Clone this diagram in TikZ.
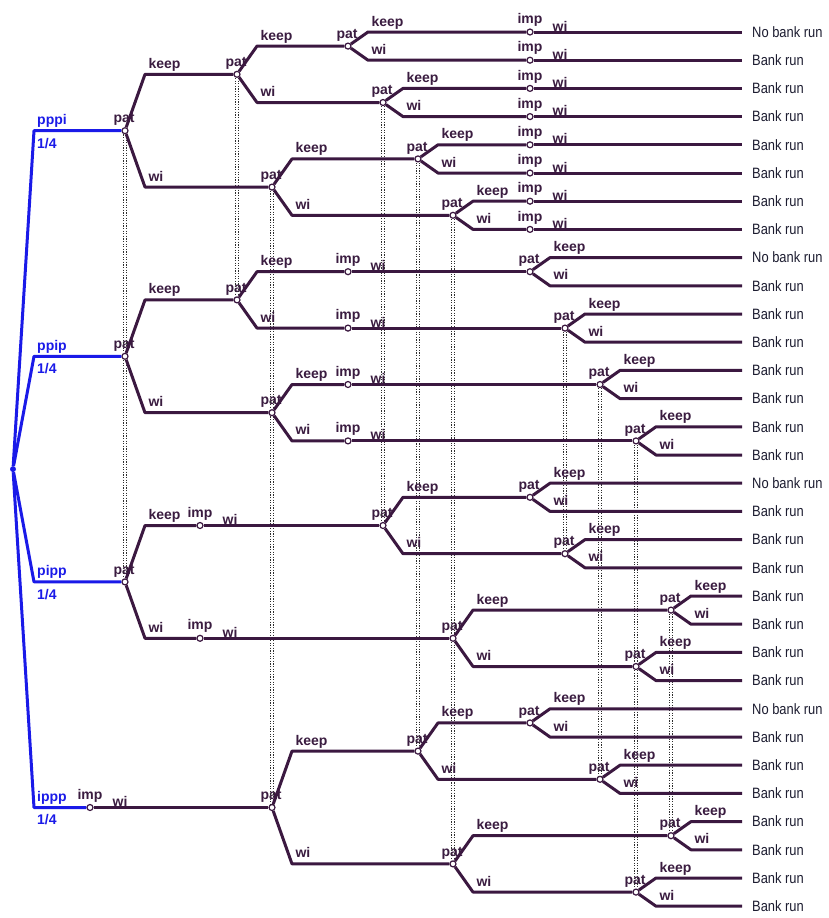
\documentclass[tikz,border=0pt]{standalone}
\usepackage{fontspec}
\setmainfont{Liberation Sans}
\newfontfamily\leaffam[FakeStretch=0.86]{Liberation Sans}
\usepackage{tikz}
\usetikzlibrary{calc}
\usepackage{xcolor}
\definecolor{branch}{HTML}{3B1840}
\definecolor{movetxt}{HTML}{3A1C40}
\definecolor{nature}{HTML}{1A1AE8}
\definecolor{leaftxt}{HTML}{1C1C30}
\definecolor{infoset}{HTML}{2E2E2E}
\newcommand{\movefont}{\fontsize{14}{16}\selectfont\bfseries}
\newcommand{\leaffont}{\leaffam\fontsize{15}{17}\selectfont}

\begin{document}
\begin{tikzpicture}[x=1pt,y=-1pt,
    tree/.style={draw=branch,line width=3pt,line join=round},
    nat/.style={draw=nature,line width=3pt,line join=round},
    lbl/.style={text=movetxt,font=\movefont,inner sep=0pt},
    nlbl/.style={text=nature,font=\movefont,inner sep=0pt},
    dec/.style={circle,draw=branch,fill=white,line width=1.2pt,minimum size=6pt,inner sep=0pt},
    patnode/.style={dec,label={[lbl,anchor=base,xshift=-1pt,yshift=11pt]center:pat}},
    impnode/.style={dec,label={[lbl,anchor=base,yshift=12pt]center:imp},
                    label={[lbl,anchor=base west,xshift=30pt,yshift=6pt]center:wi}},
    leaf/.style={anchor=west,text=leaftxt,font=\leaffont,inner xsep=10pt,inner ysep=0pt},
    br/.style={to path={-- ($(\tikztostart|-\tikztotarget)+(20,0)$)
               node[lbl,anchor=base west,xshift=2pt,yshift=6pt]{#1} -- (\tikztotarget)}},
    info/.style={preaction={draw=infoset,line width=1pt,dash pattern=on 1.2pt off 1.4pt,
                   transform canvas={xshift=-1.6pt}},
                 postaction={draw=infoset,line width=1pt,dash pattern=on 1.2pt off 1.4pt,
                   transform canvas={xshift=1.6pt}}}]
  \useasboundingbox (0,0) rectangle (828,918);

  % nature
  \node[circle,fill=nature,inner sep=0pt,minimum size=6pt] (r) at (13,469.1) {};
  \coordinate (ca) at (34,130.7);
  \coordinate (cb) at (34,356.3);
  \coordinate (cc) at (34,581.9);
  \coordinate (cd) at (34,807.5);
  \node[nlbl,anchor=base west] (ta) at ($(ca)+(3,-6)$) {pppi};
  \node[nlbl,anchor=north west] (pa) at ($(ca)+(3,7)$) {1/4};
  \node[nlbl,anchor=base west] (tb) at ($(cb)+(3,-6)$) {ppip};
  \node[nlbl,anchor=north west] (pb) at ($(cb)+(3,7)$) {1/4};
  \node[nlbl,anchor=base west] (tc) at ($(cc)+(3,-6)$) {pipp};
  \node[nlbl,anchor=north west] (pc) at ($(cc)+(3,7)$) {1/4};
  \node[nlbl,anchor=base west] (td) at ($(cd)+(3,-6)$) {ippp};
  \node[nlbl,anchor=north west] (pd) at ($(cd)+(3,7)$) {1/4};

  % first mover
  \node[patnode] (A) at (125,130.7) {};
  \node[patnode] (B) at (125,356.3) {};
  \node[patnode] (C) at (125,581.9) {};
  \node[impnode] (D0) at (90,807.5) {};
  \node[patnode] (D) at (272,807.5) {};

  % second mover
  \node[patnode] (A1) at (237,74.3) {};
  \node[patnode] (A2) at (272,187.1) {};
  \node[patnode] (B1) at (237,299.9) {};
  \node[patnode] (B2) at (272,412.7) {};
  \node[impnode] (Ci1) at (200,525.5) {};
  \node[impnode] (Ci2) at (200,638.3) {};
  \node[patnode] (C1) at (383,525.5) {};
  \node[patnode] (C2) at (453,638.3) {};
  \node[patnode] (D1) at (418,751.1) {};
  \node[patnode] (D2) at (453,863.9) {};

  % third mover
  \node[patnode] (A11) at (348,46.1) {};
  \node[patnode] (A12) at (383,102.5) {};
  \node[patnode] (A21) at (418,158.9) {};
  \node[patnode] (A22) at (453,215.3) {};
  \node[impnode] (Bi1) at (348,271.7) {};
  \node[impnode] (Bi2) at (348,328.1) {};
  \node[impnode] (Bi3) at (348,384.5) {};
  \node[impnode] (Bi4) at (348,440.9) {};
  \node[patnode] (B11) at (530,271.7) {};
  \node[patnode] (B12) at (565,328.1) {};
  \node[patnode] (B21) at (600,384.5) {};
  \node[patnode] (B22) at (636,440.9) {};
  \node[patnode] (C11) at (530,497.3) {};
  \node[patnode] (C12) at (565,553.7) {};
  \node[patnode] (C21) at (671,610.1) {};
  \node[patnode] (C22) at (636,666.5) {};
  \node[patnode] (D11) at (530,722.9) {};
  \node[patnode] (D12) at (600,779.3) {};
  \node[patnode] (D21) at (671,835.7) {};
  \node[patnode] (D22) at (636,892.1) {};

  % last mover (impatient)
  \node[impnode] (i1) at (530,32) {};
  \node[impnode] (i2) at (530,60.2) {};
  \node[impnode] (i3) at (530,88.4) {};
  \node[impnode] (i4) at (530,116.6) {};
  \node[impnode] (i5) at (530,144.8) {};
  \node[impnode] (i6) at (530,173) {};
  \node[impnode] (i7) at (530,201.2) {};
  \node[impnode] (i8) at (530,229.4) {};

  % outcomes
  \node[leaf] (L1) at (742,32) {No bank run};
  \node[leaf] (L2) at (742,60.2) {Bank run};
  \node[leaf] (L3) at (742,88.4) {Bank run};
  \node[leaf] (L4) at (742,116.6) {Bank run};
  \node[leaf] (L5) at (742,144.8) {Bank run};
  \node[leaf] (L6) at (742,173) {Bank run};
  \node[leaf] (L7) at (742,201.2) {Bank run};
  \node[leaf] (L8) at (742,229.4) {Bank run};
  \node[leaf] (L9) at (742,257.6) {No bank run};
  \node[leaf] (L10) at (742,285.8) {Bank run};
  \node[leaf] (L11) at (742,314) {Bank run};
  \node[leaf] (L12) at (742,342.2) {Bank run};
  \node[leaf] (L13) at (742,370.4) {Bank run};
  \node[leaf] (L14) at (742,398.6) {Bank run};
  \node[leaf] (L15) at (742,426.8) {Bank run};
  \node[leaf] (L16) at (742,455) {Bank run};
  \node[leaf] (L17) at (742,483.2) {No bank run};
  \node[leaf] (L18) at (742,511.4) {Bank run};
  \node[leaf] (L19) at (742,539.6) {Bank run};
  \node[leaf] (L20) at (742,567.8) {Bank run};
  \node[leaf] (L21) at (742,596) {Bank run};
  \node[leaf] (L22) at (742,624.2) {Bank run};
  \node[leaf] (L23) at (742,652.4) {Bank run};
  \node[leaf] (L24) at (742,680.6) {Bank run};
  \node[leaf] (L25) at (742,708.8) {No bank run};
  \node[leaf] (L26) at (742,737) {Bank run};
  \node[leaf] (L27) at (742,765.2) {Bank run};
  \node[leaf] (L28) at (742,793.4) {Bank run};
  \node[leaf] (L29) at (742,821.6) {Bank run};
  \node[leaf] (L30) at (742,849.8) {Bank run};
  \node[leaf] (L31) at (742,878) {Bank run};
  \node[leaf] (L32) at (742,906.2) {Bank run};

  % information sets
  \path[info] (A) -- (B) -- (C);
  \path[info] (A1) -- (B1);
  \path[info] (A2) -- (B2) -- (D);
  \path[info] (A12) -- (C1);
  \path[info] (A21) -- (D1);
  \path[info] (A22) -- (C2) -- (D2);
  \path[info] (B12) -- (C12);
  \path[info] (B21) -- (D12);
  \path[info] (B22) -- (C22) -- (D22);
  \path[info] (C21) -- (D21);

  % chance moves
  \draw[nat] (r) -- (ca) -- (A);
  \draw[nat] (r) -- (cb) -- (B);
  \draw[nat] (r) -- (cc) -- (C);
  \draw[nat] (r) -- (cd) -- (D0);

  % pppi
  \draw[tree] (A) to[br=keep] (A1) (A) to[br=wi] (A2);
  \draw[tree] (A1) to[br=keep] (A11) (A1) to[br=wi] (A12);
  \draw[tree] (A2) to[br=keep] (A21) (A2) to[br=wi] (A22);
  \draw[tree] (A11) to[br=keep] (i1) (A11) to[br=wi] (i2);
  \draw[tree] (A12) to[br=keep] (i3) (A12) to[br=wi] (i4);
  \draw[tree] (A21) to[br=keep] (i5) (A21) to[br=wi] (i6);
  \draw[tree] (A22) to[br=keep] (i7) (A22) to[br=wi] (i8);
  \draw[tree] (i1) -- (L1) (i2) -- (L2) (i3) -- (L3) (i4) -- (L4)
              (i5) -- (L5) (i6) -- (L6) (i7) -- (L7) (i8) -- (L8);

  % ppip
  \draw[tree] (B) to[br=keep] (B1) (B) to[br=wi] (B2);
  \draw[tree] (B1) to[br=keep] (Bi1) (B1) to[br=wi] (Bi2);
  \draw[tree] (B2) to[br=keep] (Bi3) (B2) to[br=wi] (Bi4);
  \draw[tree] (Bi1) -- (B11) (Bi2) -- (B12) (Bi3) -- (B21) (Bi4) -- (B22);
  \draw[tree] (B11) to[br=keep] (L9) (B11) to[br=wi] (L10);
  \draw[tree] (B12) to[br=keep] (L11) (B12) to[br=wi] (L12);
  \draw[tree] (B21) to[br=keep] (L13) (B21) to[br=wi] (L14);
  \draw[tree] (B22) to[br=keep] (L15) (B22) to[br=wi] (L16);

  % pipp
  \draw[tree] (C) to[br=keep] (Ci1) (C) to[br=wi] (Ci2);
  \draw[tree] (Ci1) -- (C1) (Ci2) -- (C2);
  \draw[tree] (C1) to[br=keep] (C11) (C1) to[br=wi] (C12);
  \draw[tree] (C2) to[br=keep] (C21) (C2) to[br=wi] (C22);
  \draw[tree] (C11) to[br=keep] (L17) (C11) to[br=wi] (L18);
  \draw[tree] (C12) to[br=keep] (L19) (C12) to[br=wi] (L20);
  \draw[tree] (C21) to[br=keep] (L21) (C21) to[br=wi] (L22);
  \draw[tree] (C22) to[br=keep] (L23) (C22) to[br=wi] (L24);

  % ippp
  \draw[tree] (D0) -- (D);
  \draw[tree] (D) to[br=keep] (D1) (D) to[br=wi] (D2);
  \draw[tree] (D1) to[br=keep] (D11) (D1) to[br=wi] (D12);
  \draw[tree] (D2) to[br=keep] (D21) (D2) to[br=wi] (D22);
  \draw[tree] (D11) to[br=keep] (L25) (D11) to[br=wi] (L26);
  \draw[tree] (D12) to[br=keep] (L27) (D12) to[br=wi] (L28);
  \draw[tree] (D21) to[br=keep] (L29) (D21) to[br=wi] (L30);
  \draw[tree] (D22) to[br=keep] (L31) (D22) to[br=wi] (L32);
\end{tikzpicture}
\end{document}
